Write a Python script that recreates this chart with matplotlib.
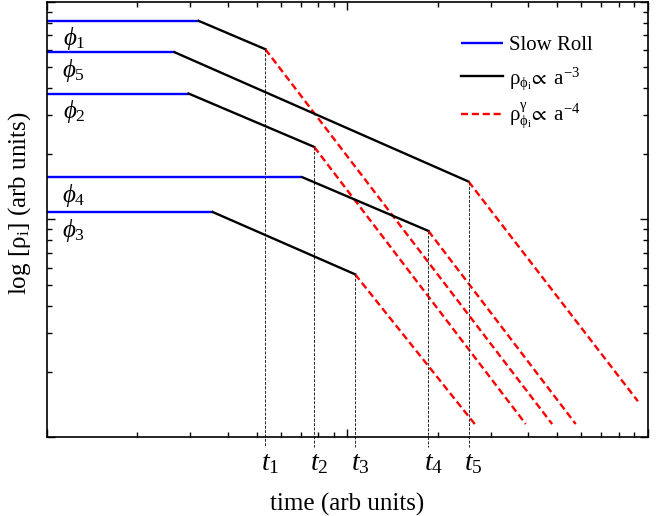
import numpy as np
import matplotlib
matplotlib.use("Agg")
import matplotlib.pyplot as plt
import matplotlib.ticker as mticker

plt.rcParams['font.family'] = ['Liberation Serif', 'DejaVu Serif']
plt.rcParams['mathtext.fontset'] = 'custom'
plt.rcParams['mathtext.rm'] = 'Liberation Serif'
plt.rcParams['mathtext.it'] = 'Liberation Serif:italic'
plt.rcParams['mathtext.bf'] = 'Liberation Serif:bold'
plt.rcParams['mathtext.fallback'] = 'stix'

# fields, in the order of their decay times t1..t5
names = ['1', '2', '3', '4', '5']
rho_slow = [81.5, 37.8, 10.8, 15.6, 58.5]     # slow roll plateau
slow_end = [3.20, 2.96, 3.56, 7.08, 2.66]     # end of slow roll
t_dec = [5.33, 7.75, 10.6, 18.6, 25.3]        # decay times t_i
rho_dec = [60.4, 21.5, 5.59, 8.84, 14.9]      # density at t_i
x_end = [48.0, 39.2, 26.8, 57.5, 92.6]        # end of radiation line
rho_end = [1.147, 1.147, 1.127, 1.147, 1.46]
x_start = 1.0

fig = plt.figure(figsize=(6.7, 5.16), dpi=100)
ax = fig.add_axes([0.0701, 0.153, 0.897, 0.844])
ax.set_xscale('log')
ax.set_yscale('log')
ax.set_xlim(1, 100)
ax.set_ylim(1, 100)

lw = 1.7
for i in range(len(names)):
    ax.plot([x_start, slow_end[i]], [rho_slow[i], rho_slow[i]], color='#0000ff', lw=lw,
            label='Slow Roll' if i == 0 else None, solid_capstyle='butt')
    ax.plot([slow_end[i], t_dec[i]], [rho_slow[i], rho_dec[i]], color='k', lw=lw,
            label=r'$\mathrm{\rho_{\phi_i}\!\propto\ a^{-3}}$' if i == 0 else None)
    ax.plot([t_dec[i], x_end[i]], [rho_dec[i], rho_end[i]], color='#ff0000', lw=lw,
            dashes=(3, 1.6),
            label=r'$\mathrm{\rho^{\gamma}_{\phi_i}\!\propto\ a^{-4}}$' if i == 0 else None)
    # vertical marker down to the axis
    ax.plot([t_dec[i], t_dec[i]], [rho_dec[i], 0.9], color='0.15', lw=0.7,
            dashes=(3, 1.5), clip_on=False)
    ax.annotate(r'$\phi_{\mathit{%s}}$' % names[i], (1.23, rho_slow[i]), xytext=(0, -18),
                textcoords='offset pixels', ha='center', va='center', fontsize=18)
    ax.annotate(r'$t_{\mathit{%s}}$' % names[i], (t_dec[i], 1), xytext=(5, -27),
                textcoords='offset pixels', ha='center', va='center', fontsize=20,
                annotation_clip=False)

ax.xaxis.set_major_formatter(mticker.NullFormatter())
ax.xaxis.set_minor_formatter(mticker.NullFormatter())
ax.yaxis.set_major_formatter(mticker.NullFormatter())
ax.yaxis.set_minor_formatter(mticker.NullFormatter())
ax.tick_params(which='both', direction='in', top=True, right=True, width=1)
ax.tick_params(which='major', length=6)
ax.tick_params(which='minor', length=3.5)
for s in ax.spines.values():
    s.set_linewidth(1.2)

ax.set_xlabel('time (arb units)', fontsize=18)
ax.xaxis.set_label_coords(0.499, -0.128)
ax.set_ylabel(r'log [$\mathrm{\rho_i}$] (arb units)', fontsize=18)
ax.yaxis.set_label_coords(-0.023, 0.537)

ax.legend(loc='upper left', bbox_to_anchor=(0.689, 0.922), frameon=False, fontsize=15,
          handlelength=2.0, labelspacing=0.47, borderaxespad=0, borderpad=0,
          handletextpad=0.3)

fig.savefig('out.png', dpi=100)
